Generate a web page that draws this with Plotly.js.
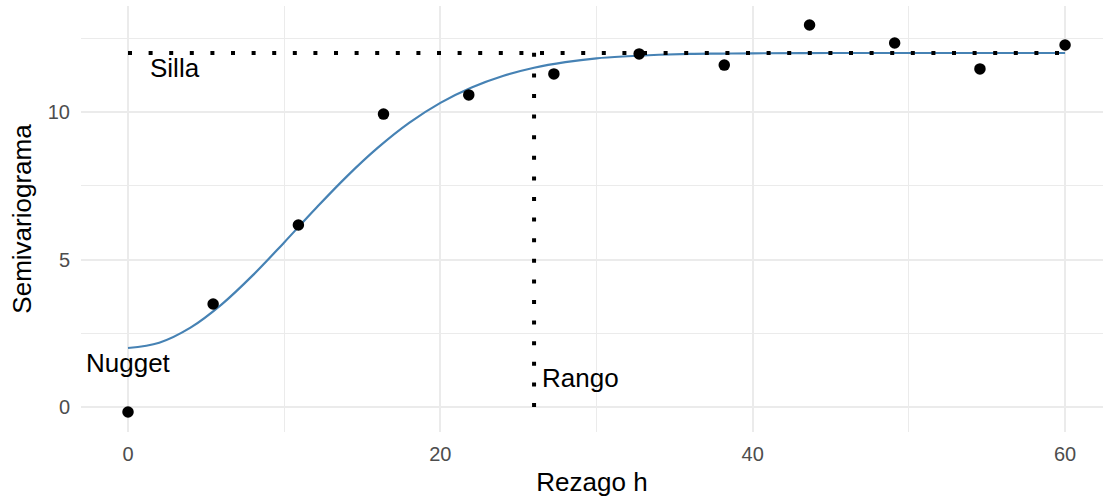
<!DOCTYPE html>
<html>
<head>
<meta charset="utf-8">
<script src="https://cdn.plot.ly/plotly-3.0.1.min.js"></script>
<style>html,body{margin:0;padding:0;background:#fff;}#chart{width:1103px;height:498px;}</style>
</head>
<body>
<div id="chart"></div>
<script>
// Empirical semivariogram points
var lagX = [0, 5.45, 10.91, 16.36, 21.82, 27.27, 32.73, 38.18, 43.64, 49.09, 54.55, 60];
var gammaY = [-0.17, 3.49, 6.17, 9.93, 10.58, 11.29, 11.97, 11.59, 12.95, 12.34, 11.46, 12.27];

// Fitted model curve
var curveX = [0, 2, 4, 6, 8, 10, 12, 14, 16, 18, 20, 22, 24, 26, 28, 30, 32, 34, 36, 38, 40, 45, 50, 55, 60];
var curveY = [2.0, 2.18, 2.69, 3.48, 4.47, 5.58, 6.72, 7.81, 8.79, 9.63, 10.31, 10.83, 11.22, 11.50, 11.69, 11.82, 11.89, 11.94, 11.97, 11.98, 11.99, 12.0, 12.0, 12.0, 12.0];

// Reference lines
var sill = 12;
var sillX = [0, 60];
var rangeX = 26;
var rangeY = [0, 12.5];

// Labels
var labelText = ["Silla", "Nugget", "Rango"];
var labelX = [3, 0, 29];
var labelY = [11.5, 1.5, 1];

var xTicks = [0, 20, 40, 60];
var yTicks = [0, 5, 10];

var FONT = "Liberation Sans, Arial, Helvetica, sans-serif";
var dotDash = "4px,16.6px";

var traces = [
  {x: curveX, y: curveY, mode: "lines", type: "scatter", line: {color: "#4682B4", width: 2.2, shape: "spline"}, hoverinfo: "skip"},
  {x: sillX, y: [sill, sill], mode: "lines", type: "scatter", line: {color: "#000", width: 4, dash: dotDash}},
  {x: [rangeX, rangeX], y: rangeY, mode: "lines", type: "scatter", line: {color: "#000", width: 4, dash: dotDash}},
  {x: lagX, y: gammaY, mode: "markers", type: "scatter", marker: {color: "#000", size: 11.5}}
];

var annotations = labelText.map(function(t, i) {
  return {x: labelX[i], y: labelY[i], xref: "x", yref: "y", text: t, showarrow: false,
          xanchor: "center", yanchor: "middle", font: {family: FONT, size: 26, color: "#000"}};
});

var layout = {
  width: 1103, height: 498,
  margin: {l: 81, r: 0, t: 6, b: 66},
  paper_bgcolor: "#fff", plot_bgcolor: "#fff",
  showlegend: false,
  font: {family: FONT},
  xaxis: {
    range: [-3.01, 62.43], tickvals: xTicks, ticktext: xTicks.map(String),
    showgrid: true, gridcolor: "#EBEBEB", gridwidth: 2, zeroline: false, showline: false,
    ticks: "", ticklabelstandoff: 8,
    tickfont: {family: FONT, size: 20, color: "#4D4D4D"},
    minor: {dtick: 10, tick0: 0, showgrid: true, gridcolor: "#EBEBEB", gridwidth: 1.1},
    title: {text: "Rezago h", font: {family: FONT, size: 26, color: "#000"}, standoff: 8}
  },
  yaxis: {
    range: [-0.847, 13.593], tickvals: yTicks, ticktext: yTicks.map(String),
    showgrid: true, gridcolor: "#EBEBEB", gridwidth: 2, zeroline: false, showline: false,
    ticks: "", ticklabelstandoff: 10,
    tickfont: {family: FONT, size: 20, color: "#4D4D4D"},
    minor: {dtick: 2.5, tick0: 0, showgrid: true, gridcolor: "#EBEBEB", gridwidth: 1.1},
    title: {text: "Semivariograma", font: {family: FONT, size: 26, color: "#000"}, standoff: 8}
  },
  annotations: annotations
};

Plotly.newPlot("chart", traces, layout, {displayModeBar: false, staticPlot: true});
</script>
</body>
</html>
